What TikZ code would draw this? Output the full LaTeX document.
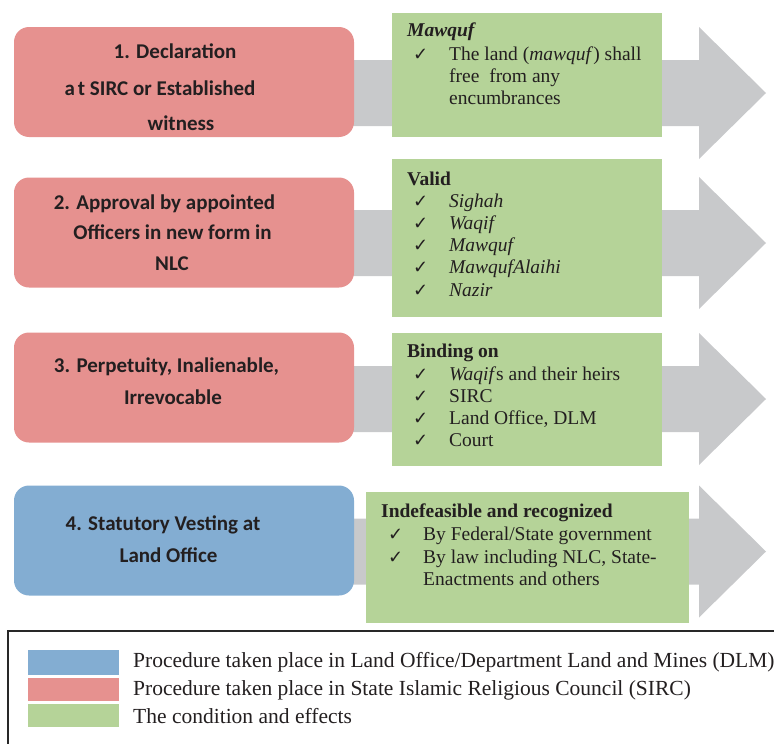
\documentclass[tikz,border=0pt]{standalone}
\usepackage{fontspec}
\setmainfont{Liberation Serif}
\newfontfamily\calfont{Carlito}
\newfontfamily\chkfont{DejaVu Sans}
\definecolor{redbox}{RGB}{230,145,143}
\definecolor{bluebox}{RGB}{131,173,210}
\definecolor{greenbox}{RGB}{181,211,152}
\definecolor{arrowgray}{RGB}{200,201,203}
\definecolor{ink}{RGB}{35,31,32}
\definecolor{frame}{RGB}{40,40,40}
\newcommand{\chk}{{\chkfont\bfseries\fontsize{18}{18}\selectfont ✓}}
\begin{document}
\begin{tikzpicture}[x=1pt,y=-1pt,
  procbox/.style={rounded corners=15pt, inner sep=0, minimum width=340pt, minimum height=110pt},
  condbox/.style={fill=greenbox, inner sep=0, anchor=north west},
  rtext/.style={anchor=base, inner sep=0, text=ink, font=\calfont\bfseries\fontsize{21}{25}\selectfont},
  gtext/.style={anchor=base west, inner sep=0, text=ink, font=\fontsize{19.5}{22}\selectfont},
  ctext/.style={anchor=base west, inner sep=0, text=ink},
  ltext/.style={anchor=base west, inner sep=0, text=ink, font=\fontsize{21.5}{24}\selectfont},
  swatch/.style={inner sep=0, anchor=north west, minimum width=91pt}]
\useasboundingbox (0,0) rectangle (774,744);

% block arrows
\foreach \c/\n in {93/a1,243/a2,399/a3,551.5/a4}{
  \fill[arrowgray] (340,\c-33) -- (699,\c-33) -- (699,\c-66) -- (766,\c)
     -- (699,\c+66) -- (699,\c+33) -- (340,\c+33) -- cycle;
}

% procedure boxes
\node[procbox, fill=redbox] (r1) at (184,82) {};
\node[procbox, fill=redbox] (r2) at (184,232.5) {};
\node[procbox, fill=redbox] (r3) at (184,387.5) {};
\node[procbox, fill=bluebox] (r4) at (184,540.5) {};

% procedure texts
\node[rtext] (r1a) at (175,58) {1. Declaration};
\node[rtext] (r1b) at (160,95) {a\kern3pt t SIRC or Established};
\node[rtext] (r1c) at (181,130) {witness};
\node[rtext] (r2a) at (164.5,209) {2. Approval by appointed};
\node[rtext] (r2b) at (172.5,239) {Officers in new form in};
\node[rtext] (r2c) at (172,270) {NLC};
\node[rtext] (r3a) at (166.5,372) {3. Perpetuity, Inalienable,};
\node[rtext] (r3b) at (173,404) {Irrevocable};
\node[rtext] (r4a) at (163,530) {4. Statutory Vesting at};
\node[rtext] (r4b) at (168.5,562) {Land Office};

% condition boxes
\node[condbox, minimum width=270pt, minimum height=124pt] (g1) at (392,13) {};
\node[condbox, minimum width=270pt, minimum height=158pt] (g2) at (392,159) {};
\node[condbox, minimum width=270pt, minimum height=133pt] (g3) at (392,333) {};
\node[condbox, minimum width=323pt, minimum height=131pt] (g4) at (366,492) {};

% condition texts: row 1
\node[gtext] (g1h) at (407,36) {\textbf{\textit{Mawquf}}};
\node[ctext] (g1c1) at (413,60) {\chk};
\node[gtext] (g1t1) at (449,60) {The land (\textit{mawquf}) shall};
\node[gtext] (g1t2) at (449,82) {free\ \ from any};
\node[gtext] (g1t3) at (449,104) {encumbrances};

% row 2
\node[gtext] (g2h) at (407,185) {\textbf{Valid}};
\node[ctext] (g2c1) at (413,207) {\chk};
\node[ctext] (g2c2) at (413,229) {\chk};
\node[ctext] (g2c3) at (413,251) {\chk};
\node[ctext] (g2c4) at (413,273) {\chk};
\node[ctext] (g2c5) at (413,296) {\chk};
\node[gtext] (g2t1) at (449,207) {\textit{Sighah}};
\node[gtext] (g2t2) at (449,229) {\textit{Waqif}};
\node[gtext] (g2t3) at (449,251) {\textit{Mawquf}};
\node[gtext] (g2t4) at (449,273) {\textit{MawqufAlaihi}};
\node[gtext] (g2t5) at (449,296) {\textit{Nazir}};

% row 3
\node[gtext] (g3h) at (407,357) {\textbf{Binding on}};
\node[ctext] (g3c1) at (413,380) {\chk};
\node[ctext] (g3c2) at (413,402) {\chk};
\node[ctext] (g3c3) at (413,424) {\chk};
\node[ctext] (g3c4) at (413,446) {\chk};
\node[gtext] (g3t1) at (449,380) {\textit{Waqif}s and their heirs};
\node[gtext] (g3t2) at (449,402) {SIRC};
\node[gtext] (g3t3) at (449,424) {Land Office, DLM};
\node[gtext] (g3t4) at (449,446) {Court};

% row 4
\node[gtext] (g4h) at (381,517) {\textbf{Indefeasible and recognized}};
\node[ctext] (g4c1) at (388,540) {\chk};
\node[ctext] (g4c2) at (388,563) {\chk};
\node[gtext] (g4t1) at (423,540) {By Federal/State government};
\node[gtext] (g4t2) at (423,563) {By law including NLC, State-};
\node[gtext] (g4t3) at (423,585) {Enactments and others};

% legend
\draw[frame, line width=1.3pt] (8,744) -- (8,631) -- (774,631);
\node[swatch, fill=bluebox, minimum height=25pt] (lb) at (28,650) {};
\node[swatch, fill=redbox, minimum height=23pt] (lr) at (28,678) {};
\node[swatch, fill=greenbox, minimum height=23pt] (lg) at (28,704) {};
\node[ltext] (lbt) at (133,667) {Procedure taken place in Land Office/Department Land and Mines (DLM)};
\node[ltext] (lrt) at (133,695) {Procedure taken place in State Islamic Religious Council (SIRC)};
\node[ltext] (lgt) at (133,723) {The condition and effects};
\end{tikzpicture}
\end{document}
